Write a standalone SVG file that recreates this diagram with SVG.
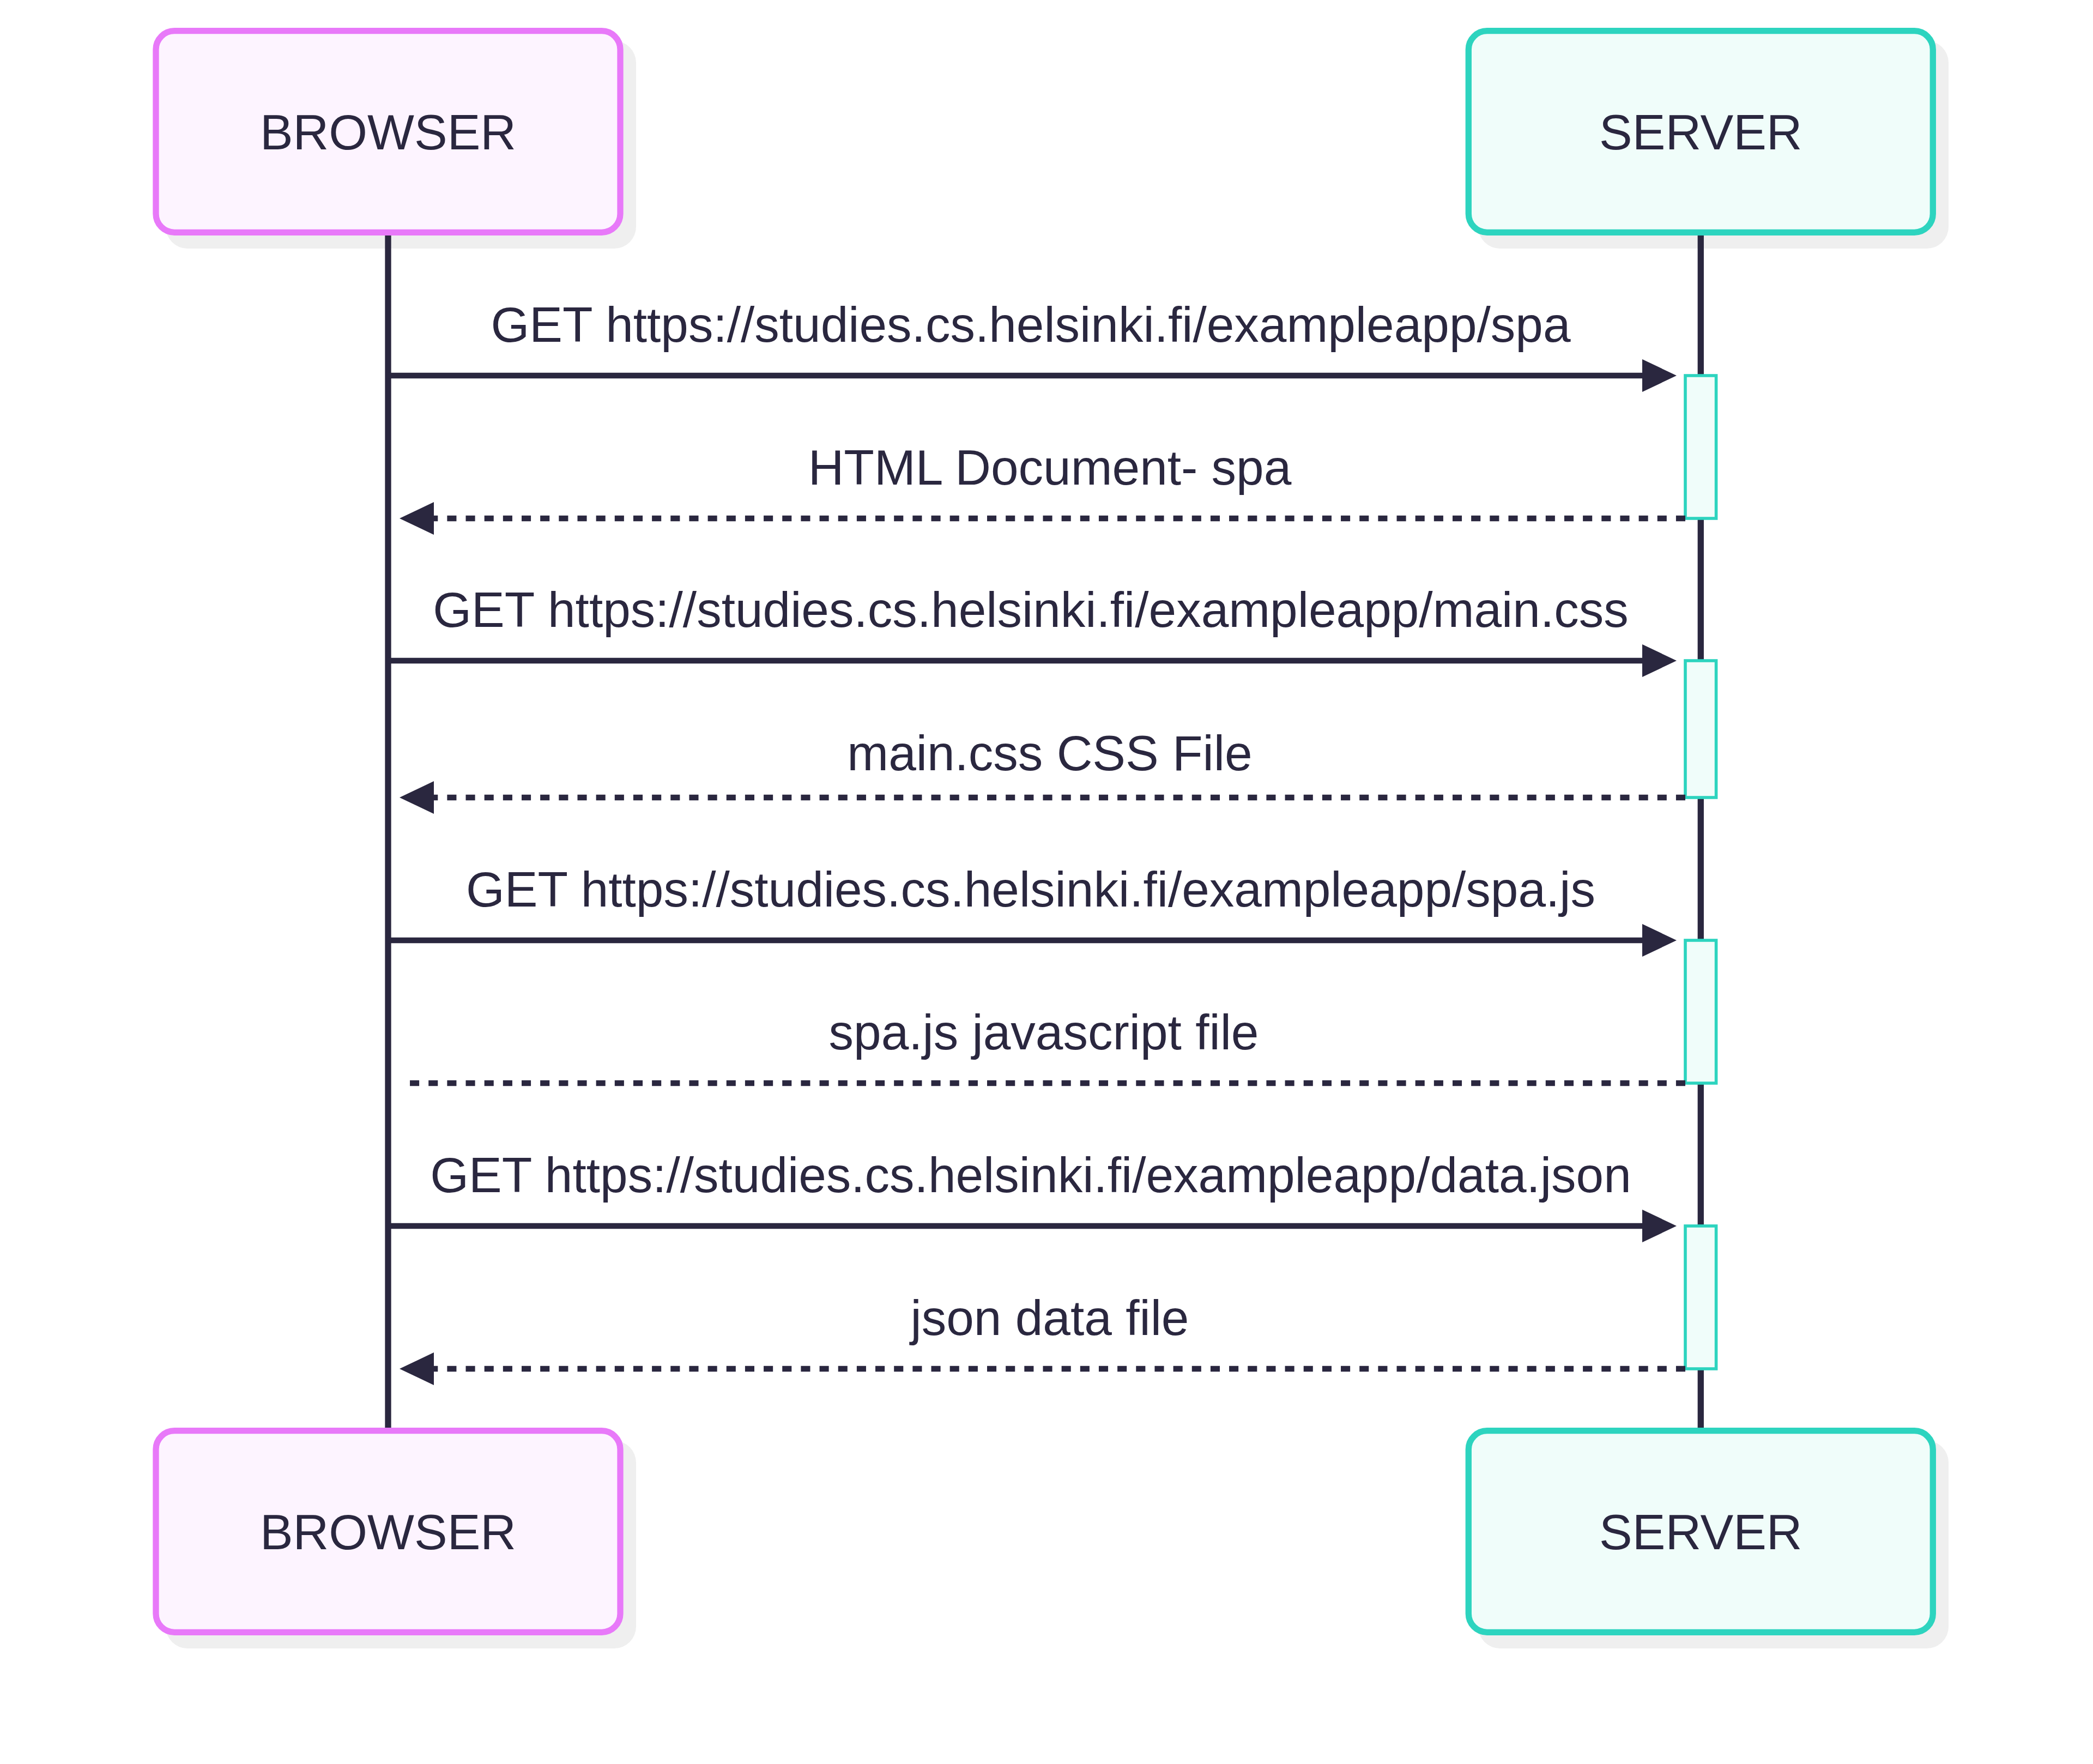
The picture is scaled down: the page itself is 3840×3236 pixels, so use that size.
<svg xmlns="http://www.w3.org/2000/svg" width="3840" height="3236" viewBox="0 0 3840 3236">
<style>
  .shadow { fill: #efefef; }
  .actor-b { fill: #fdf4ff; stroke: #e879f9; stroke-width: 11.3; }
  .actor-s { fill: #f0fdfa; stroke: #2dd4bf; stroke-width: 11.3; }
  .lbl { font-family: "Liberation Sans", Arial, sans-serif; font-size: 91px; fill: #2a273f; text-anchor: middle; }
  .life { stroke: #2a273f; stroke-width: 11.3; }
  .msg { stroke: #2a273f; stroke-width: 10.7; fill: none; }
  .dash { stroke-dasharray: 17.08 17.08; }
  .act { fill: #f0fdfa; stroke: #2dd4bf; stroke-width: 5.6; }
  .head { fill: #2a273f; }
</style>
<rect width="3840" height="3236" fill="#ffffff"/>

<g id="shadows">
  <rect class="shadow" x="304" y="75" width="863" height="381" rx="40"/>
  <rect class="shadow" x="2712" y="75" width="863" height="381" rx="40"/>
  <rect class="shadow" x="304" y="2643" width="863" height="381" rx="40"/>
  <rect class="shadow" x="2712" y="2643" width="863" height="381" rx="40"/>
</g>

<g id="lifelines">
  <line class="life" x1="712" y1="432" x2="712" y2="2619"/>
  <line class="life" x1="3120.3" y1="432" x2="3120.3" y2="2619"/>
</g>

<g id="browser-top">
  <rect class="actor-b" x="286" y="56.7" width="852" height="369.6" rx="34"/>
  <text class="lbl" x="712" y="274">BROWSER</text>
</g>
<g id="server-top">
  <rect class="actor-s" x="2694.3" y="56.7" width="852" height="369.6" rx="34"/>
  <text class="lbl" x="3120.3" y="274">SERVER</text>
</g>
<g id="browser-bottom">
  <rect class="actor-b" x="286" y="2624.7" width="852" height="369.6" rx="34"/>
  <text class="lbl" x="712" y="2842">BROWSER</text>
</g>
<g id="server-bottom">
  <rect class="actor-s" x="2694.3" y="2624.7" width="852" height="369.6" rx="34"/>
  <text class="lbl" x="3120.3" y="2842">SERVER</text>
</g>

<g id="activations">
  <rect class="act" x="3092" y="689" width="56.6" height="262"/>
  <rect class="act" x="3092" y="1212" width="56.6" height="251"/>
  <rect class="act" x="3092" y="1725" width="56.6" height="262"/>
  <rect class="act" x="3092" y="2249" width="56.6" height="262"/>
</g>

<g id="connectors">
  <line class="msg" x1="712" y1="689" x2="3020" y2="689"/>
  <polygon class="head" points="3013,659 3076,689 3013,719"/>
  <text class="lbl" x="1891" y="627">GET https://studies.cs.helsinki.fi/exampleapp/spa</text>

  <line class="msg dash" x1="3092" y1="951" x2="760" y2="951"/>
  <polygon class="head" points="796,921 733,951 796,981"/>
  <text class="lbl" x="1926" y="889">HTML Document- spa</text>

  <line class="msg" x1="712" y1="1212" x2="3020" y2="1212"/>
  <polygon class="head" points="3013,1182 3076,1212 3013,1242"/>
  <text class="lbl" x="1891" y="1150">GET https://studies.cs.helsinki.fi/exampleapp/main.css</text>

  <line class="msg dash" x1="3092" y1="1463" x2="760" y2="1463"/>
  <polygon class="head" points="796,1433 733,1463 796,1493"/>
  <text class="lbl" x="1926" y="1413">main.css CSS File</text>

  <line class="msg" x1="712" y1="1725" x2="3020" y2="1725"/>
  <polygon class="head" points="3013,1695 3076,1725 3013,1755"/>
  <text class="lbl" x="1891" y="1663">GET https://studies.cs.helsinki.fi/exampleapp/spa.js</text>

  <line class="msg dash" x1="3092" y1="1987" x2="752" y2="1987"/>
  <text class="lbl" x="1915" y="1925">spa.js javascript file</text>

  <line class="msg" x1="712" y1="2249" x2="3020" y2="2249"/>
  <polygon class="head" points="3013,2219 3076,2249 3013,2279"/>
  <text class="lbl" x="1891" y="2187">GET https://studies.cs.helsinki.fi/exampleapp/data.json</text>

  <line class="msg dash" x1="3092" y1="2511" x2="760" y2="2511"/>
  <polygon class="head" points="796,2481 733,2511 796,2541"/>
  <text class="lbl" x="1926" y="2449">json data file</text>
</g>
</svg>
